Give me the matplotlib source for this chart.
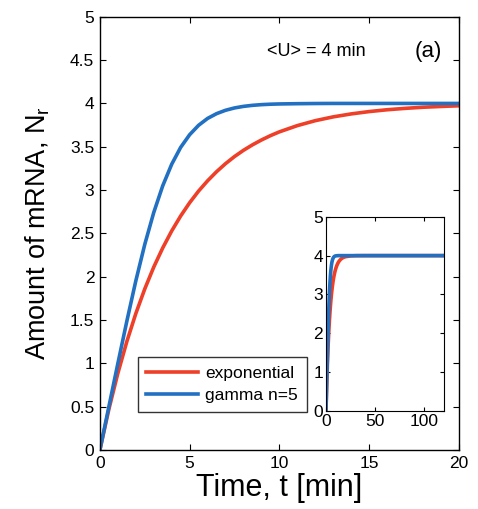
import matplotlib
matplotlib.use("Agg")
import matplotlib.pyplot as plt

plt.rcParams['font.family'] = ['Liberation Sans', 'DejaVu Sans']
plt.rcParams['mathtext.default'] = 'regular'

# Time points (min) and values
t_main = [0, 0.5, 1, 1.5, 2, 2.5, 3, 3.5, 4, 4.5, 5, 5.5, 6, 6.5, 7, 7.5, 8, 8.5, 9, 9.5, 10,
          11, 12, 13, 14, 15, 16, 17, 18, 19, 20]
red_main = [0, 0.47, 0.885, 1.251, 1.574, 1.859, 2.111, 2.332, 2.528, 2.701, 2.854, 2.989,
            3.107, 3.212, 3.305, 3.387, 3.459, 3.522, 3.578, 3.628, 3.672,
            3.744, 3.801, 3.845, 3.879, 3.906, 3.927, 3.943, 3.956, 3.965, 3.973]
blue_main = [0, 0.50, 0.998, 1.486, 1.951, 2.373, 2.741, 3.049, 3.298, 3.493, 3.639, 3.748,
             3.827, 3.882, 3.921, 3.948, 3.966, 3.978, 3.986, 3.991, 3.994,
             3.997, 3.999, 4.0, 4.0, 4.0, 4.0, 4.0, 4.0, 4.0, 4.0]

t_ext = [25, 30, 40, 60, 80, 100, 120]
red_ext = [3.992, 3.998, 4.0, 4.0, 4.0, 4.0, 4.0]
blue_ext = [4.0, 4.0, 4.0, 4.0, 4.0, 4.0, 4.0]

labels = ['exponential', 'gamma n=5']
red_c = '#ee3f28'
blue_c = '#2170c2'

fig = plt.figure(figsize=(4.78, 5.09), dpi=100)
ax = fig.add_axes([0.209, 0.116, 0.751, 0.851])
ax.plot(t_main, red_main, color=red_c, lw=2.6, label=labels[0])
ax.plot(t_main, blue_main, color=blue_c, lw=2.6, label=labels[1])
ax.set_xlim(0, 20)
ax.set_ylim(0, 5)
ax.set_xticks([0, 5, 10, 15, 20])
ax.set_yticks([0, 0.5, 1, 1.5, 2, 2.5, 3, 3.5, 4, 4.5, 5])
ax.set_yticklabels(['0', '0.5', '1', '1.5', '2', '2.5', '3', '3.5', '4', '4.5', '5'])
ax.tick_params(direction='in', top=True, right=True, length=4, labelsize=12.5, pad=4)
ax.set_xlabel('Time, t [min]', fontsize=22, labelpad=2)
ax.set_ylabel('Amount of mRNA, N$_{r}$', fontsize=19.5, labelpad=13)
ax.text(0.465, 0.919, '<U> = 4 min', transform=ax.transAxes, fontsize=13, ha='left', va='center')
ax.text(0.878, 0.919, '(a)', transform=ax.transAxes, fontsize=16, ha='left', va='center')
leg = ax.legend(loc='lower left', bbox_to_anchor=(0.105, 0.088), fontsize=12.5, frameon=True,
                fancybox=False, edgecolor='black', handlelength=3.0, borderpad=0.5,
                labelspacing=0.4, handletextpad=0.4, borderaxespad=0)
leg.get_frame().set_linewidth(1.0)
for s in ax.spines.values():
    s.set_linewidth(1.0)

ins = fig.add_axes([0.682, 0.193, 0.247, 0.381])
ins.plot(t_main + t_ext, red_main + red_ext, color=red_c, lw=2.6)
ins.plot(t_main + t_ext, blue_main + blue_ext, color=blue_c, lw=2.6)
ins.set_xlim(0, 120)
ins.set_ylim(0, 5)
ins.set_xticks([0, 50, 100])
ins.set_yticks([0, 1, 2, 3, 4, 5])
ins.tick_params(direction='in', top=True, right=True, length=3, labelsize=12.5, pad=2)

fig.savefig('out.png', dpi=100)
